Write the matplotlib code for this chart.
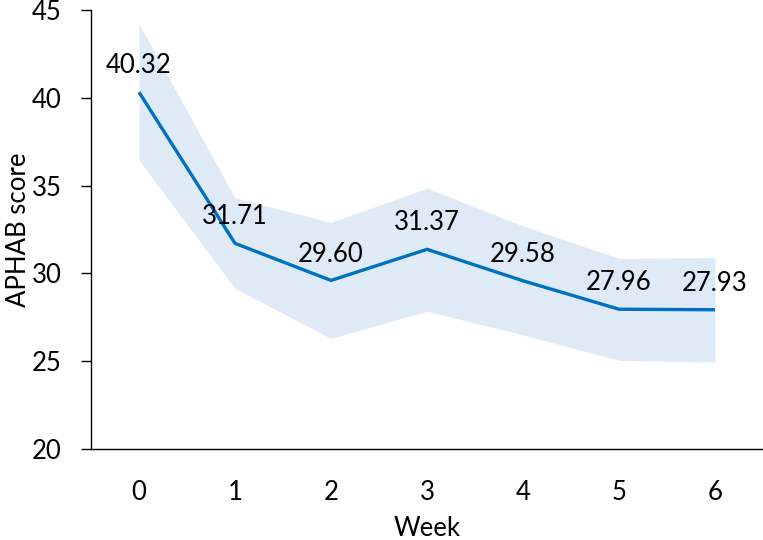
import matplotlib
matplotlib.use("Agg")
import matplotlib.pyplot as plt

weeks = [0, 1, 2, 3, 4, 5, 6]
scores = [40.32, 31.71, 29.60, 31.37, 29.58, 27.96, 27.93]
upper = [44.2, 34.3, 32.9, 34.85, 32.7, 30.85, 30.9]
lower = [36.45, 29.15, 26.3, 27.85, 26.5, 25.05, 24.95]
yticks = [20, 25, 30, 35, 40, 45]

plt.rcParams['font.family'] = ['Lato', 'DejaVu Sans']

fig = plt.figure(figsize=(7.63, 5.40), dpi=100)
ax = fig.add_axes([91/763, 1-449/540, 1-91/763, (449-10)/540])

ax.fill_between(weeks, lower, upper, color='#DEEAF6', linewidth=0, zorder=1)
ax.plot(weeks, scores, color='#0070C0', linewidth=2.4, zorder=2, solid_capstyle='butt')

for x, y in zip(weeks, scores):
    ax.annotate(f"{y:.2f}", (x, y), xytext=(0, 19), textcoords='offset points',
                ha='center', va='center', fontsize=18.5, color='black', zorder=3)

ax.set_xlim(-0.5, 6.5)
ax.set_ylim(20, 45)
ax.set_yticks(yticks)
ax.set_xticks(weeks)
ax.set_xticklabels([str(w) for w in weeks])

for s in ['top', 'right']:
    ax.spines[s].set_visible(False)
for s in ['left', 'bottom']:
    ax.spines[s].set_color('black')
    ax.spines[s].set_linewidth(1.0)

ax.tick_params(axis='y', direction='out', length=7, width=1.0, pad=14, labelsize=18.5)
ax.tick_params(axis='x', length=0, pad=22, labelsize=18.5)

ax.set_xlabel('Week', fontsize=18.5, va='center')
ax.set_ylabel('APHAB score', fontsize=18.5, va='center', ha='center')
ax.xaxis.set_label_coords(0.5, (449 - 528) / 439)
ax.yaxis.set_label_coords((19 - 91) / 672, 0.5)

fig.savefig('out.png', dpi=100)
